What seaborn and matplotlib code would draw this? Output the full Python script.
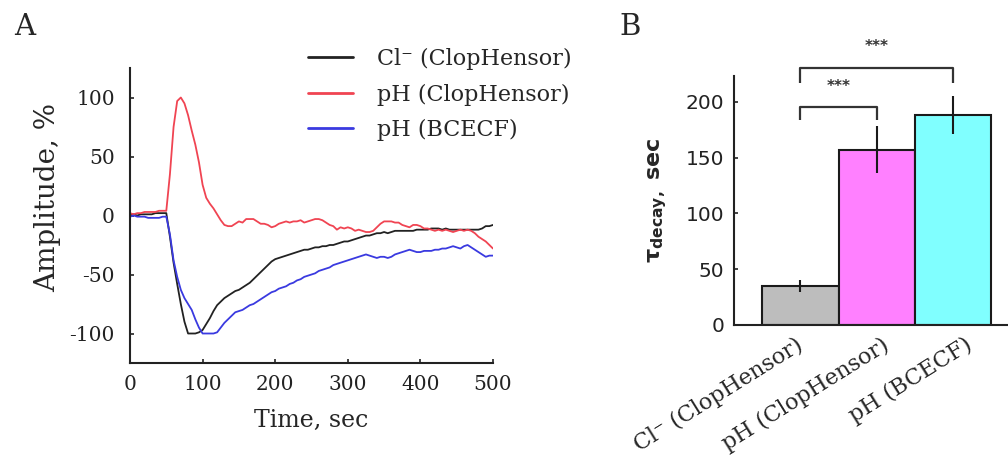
import numpy as np
import pandas as pd
import matplotlib
matplotlib.use("Agg")
import matplotlib.pyplot as plt
import matplotlib.transforms as mtransforms
import seaborn as sns

# ---------------- Data: panel A (time courses, sampled every 5 s) ----------------
time_s = np.arange(0, 505, 5)

cl_clophensor = [
    0, 1, 0, 1, 1, 1, 1, 2, 2, 2, 2,
    -18, -40, -58, -75, -90, -100, -100, -100, -99, -97,
    -92, -87, -81, -76, -73, -70, -68, -66, -64, -63,
    -61, -59, -57, -54, -51, -48, -45, -42, -39, -37,
    -36, -35, -34, -33, -32, -31, -30, -29, -29, -28,
    -27, -27, -26, -26, -25, -25, -24, -23, -22, -22,
    -21, -20, -19, -18, -17, -17, -16, -15, -15, -14,
    -15, -14, -13, -13, -13, -13, -13, -13, -12, -12,
    -12, -12, -11, -11, -11, -12, -11, -12, -12, -12,
    -12, -12, -12, -12, -12, -12, -11, -9, -9, -8,
]

ph_clophensor = [
    2, 1, 2, 2, 3, 3, 3, 3, 4, 4, 4,
    35, 75, 97, 100, 95, 85, 72, 60, 45, 26,
    15, 10, 6, 1, -4, -8, -9, -9, -7, -5,
    -6, -3, -3, -3, -5, -7, -7, -8, -10, -9,
    -7, -6, -5, -6, -5, -5, -4, -6, -5, -4,
    -3, -3, -4, -6, -8, -9, -12, -10, -11, -10,
    -11, -13, -12, -13, -14, -14, -13, -10, -7, -5,
    -5, -5, -6, -6, -8, -9, -10, -8, -8, -9,
    -11, -11, -12, -13, -12, -13, -12, -13, -14, -13,
    -12, -13, -12, -13, -15, -18, -20, -22, -25, -28,
]

ph_bcecf = [
    -1, 0, -1, -1, -1, -2, -2, -2, -2, -1, -1,
    -16, -38, -52, -63, -70, -75, -80, -88, -95, -100,
    -100, -100, -100, -99, -95, -91, -88, -85, -82, -81,
    -80, -78, -76, -75, -73, -71, -69, -67, -65, -64,
    -62, -61, -60, -58, -57, -55, -54, -52, -51, -50,
    -49, -47, -46, -45, -44, -42, -41, -40, -39, -38,
    -37, -36, -35, -34, -33, -34, -35, -36, -35, -35,
    -36, -35, -33, -32, -31, -30, -29, -30, -31, -31,
    -30, -30, -30, -29, -29, -28, -28, -27, -26, -27,
    -28, -26, -25, -27, -29, -31, -33, -35, -34, -34,
]

series_names = ["Cl\u207b (ClopHensor)", "pH (ClopHensor)", "pH (BCECF)"]
line_colors = ["#222222", "#f04452", "#3a3ae0"]

# ---------------- Data: panel B (decay time constants) ----------------
categories = ["Cl\u207b (ClopHensor)", "pH (ClopHensor)", "pH (BCECF)"]
tau_mean = [35, 157, 188]
tau_err = [5, 21, 17]
bar_colors = ["#bdbdbd", "#ff80ff", "#80ffff"]
sig_pairs = [(0, 1), (0, 2)]
sig_top = [195, 230]
sig_leg = [184, 217]
sig_labels = ["***", "***"]

# ---------------- Style ----------------
sns.set_style("ticks")
plt.rcParams["font.family"] = ["DejaVu Serif"]
plt.rcParams["mathtext.fontset"] = "dejavusans"
plt.rcParams["axes.unicode_minus"] = False
plt.rcParams["axes.linewidth"] = 1.5
plt.rcParams["axes.edgecolor"] = "#222222"

fig = plt.figure(figsize=(10.08, 4.55), dpi=100)
W, H = 1008, 455

def ax_rect(x0, y0, x1, y1):
    return [x0 / W, 1 - y1 / H, (x1 - x0) / W, (y1 - y0) / H]

# ---------------- Panel A ----------------
axA = fig.add_axes(ax_rect(130, 68, 493, 363))
dfA = pd.concat([
    pd.DataFrame({"Time": time_s, "Amplitude": vals, "Series": name})
    for name, vals in zip(series_names, [cl_clophensor, ph_clophensor, ph_bcecf])
])
sns.lineplot(data=dfA, x="Time", y="Amplitude", hue="Series",
             palette=dict(zip(series_names, line_colors)), linewidth=1.3,
             ax=axA, legend=True)
axA.set_xlim(0, 500)
axA.set_ylim(-125, 125)
axA.set_xticks([0, 100, 200, 300, 400, 500])
axA.set_yticks([-100, -50, 0, 50, 100])
sns.despine(ax=axA)
axA.tick_params(axis="both", direction="in", length=3, width=1.2,
                labelsize=14.5, colors="#222222")
axA.tick_params(axis="y", pad=11)
axA.tick_params(axis="x", pad=9)
axA.set_xlabel("Time, sec", fontsize=17)
axA.xaxis.set_label_coords(0.5, -0.155)
axA.set_ylabel("Amplitude, %", fontsize=20)
axA.yaxis.set_label_coords(-0.19, 0.56)
handles, labels = axA.get_legend_handles_labels()
axA.legend(handles, labels, frameon=False, loc="upper left",
           bbox_to_anchor=(297 / W, 1 - 37 / H), bbox_transform=fig.transFigure,
           fontsize=16, handlelength=2.0, handletextpad=1.1, labelspacing=0.6,
           borderpad=0)
for ln in axA.get_legend().get_lines():
    ln.set_linewidth(2.0)

# ---------------- Panel B ----------------
axB = fig.add_axes(ax_rect(734, 76, 1008, 325))
dfB = pd.DataFrame({"cond": categories, "tau": tau_mean})
sns.barplot(data=dfB, x="cond", y="tau", hue="cond", palette=bar_colors,
            width=1.0, saturation=1, edgecolor="#1a1a1a", linewidth=1.5,
            legend=False, ax=axB)
axB.errorbar(np.arange(len(categories)), tau_mean, yerr=tau_err, fmt="none",
             ecolor="#1a1a1a", elinewidth=1.5, capsize=0, zorder=5)
axB.set_xlim(-0.87, 2.72)
axB.set_ylim(0, 223)
axB.set_yticks([0, 50, 100, 150, 200])
sns.despine(ax=axB)
axB.tick_params(axis="y", direction="in", length=3, width=1.2, pad=7,
                labelsize=14.5, colors="#222222")
for lab in axB.get_yticklabels():
    lab.set_family("DejaVu Sans")
axB.tick_params(axis="x", length=0, pad=2)
axB.set_xticks(np.arange(len(categories)))
axB.set_xticklabels(categories, rotation=32, ha="right", rotation_mode="anchor",
                    fontsize=16)
label_dx = [-5, 5, 12]
for lab, dx in zip(axB.get_xticklabels(), label_dx):
    off = mtransforms.ScaledTranslation(dx / 100, -6 / 100, fig.dpi_scale_trans)
    lab.set_transform(lab.get_transform() + off)
axB.set_xlabel("")
axB.set_ylabel("\u03c4$_{\\mathregular{decay,}}$ sec", fontsize=16,
               family="DejaVu Sans", fontweight="bold", labelpad=12)

for (a, b), top, leg, lab in zip(sig_pairs, sig_top, sig_leg, sig_labels):
    axB.plot([a, a, b, b], [leg, top, top, leg], color="#333333", lw=1.6,
             clip_on=False, solid_capstyle="butt")
    axB.text((a + b) / 2, top + 19, lab, ha="center", va="center",
             fontsize=11, fontweight="bold", family="DejaVu Sans",
             color="#333333", clip_on=False)

# ---------------- Panel letters ----------------
fig.text(25 / W, 1 - 27 / H, "A", fontsize=21, ha="center", va="center")
fig.text(630 / W, 1 - 27 / H, "B", fontsize=21, ha="center", va="center")

fig.savefig("out.png", dpi=100)
